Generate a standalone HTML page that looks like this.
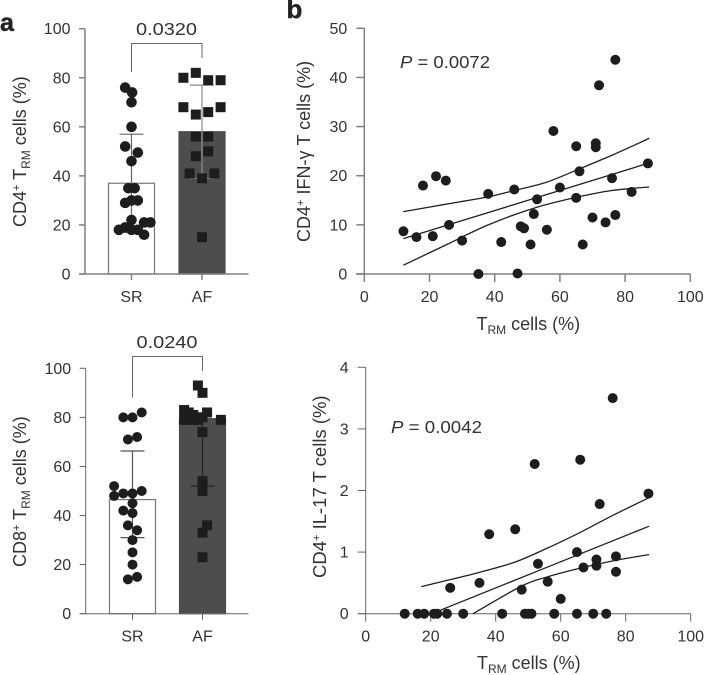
<!DOCTYPE html>
<html>
<head>
<meta charset="utf-8">
<style>
html,body{margin:0;padding:0;background:#fff;width:704px;height:675px;overflow:hidden}
svg{display:block}
text{font-family:"Liberation Sans",sans-serif;fill:#333;font-size:16px}
.title{font-size:18px}
.sup{font-size:11px}
.sub{font-size:12px}
</style>
</head>
<body>
<svg id="figure" width="704" height="675" viewBox="0 0 704 675" xmlns="http://www.w3.org/2000/svg">
  <text x="0" y="31" style="font-size:25px;font-weight:bold;fill:#222;stroke:#222;stroke-width:.4">a</text>
  <text x="286.500" y="18" style="font-size:26px;font-weight:bold;fill:#222;stroke:#222;stroke-width:.4">b</text>

  <text class="title" transform="translate(26,227) rotate(-90)">CD4<tspan dy="-6" class="sup">+</tspan><tspan dy="6"> T</tspan><tspan dy="4" class="sub">RM</tspan><tspan dy="-4"> cells (%)</tspan></text>
  <text class="title" transform="translate(26,567) rotate(-90)">CD8<tspan dy="-6" class="sup">+</tspan><tspan dy="6"> T</tspan><tspan dy="4" class="sub">RM</tspan><tspan dy="-4"> cells (%)</tspan></text>
  <text class="title" transform="translate(310,242) rotate(-90)">CD4<tspan dy="-6" class="sup">+</tspan><tspan dy="6"> IFN-γ T cells (%)</tspan></text>
  <text class="title" style="font-size:18.500px" transform="translate(326,578) rotate(-90)">CD4<tspan dy="-6" class="sup">+</tspan><tspan dy="6"> IL-17 T cells (%)</tspan></text>
  <text class="title" x="476.500" y="330">T<tspan dy="4" class="sub">RM</tspan><tspan dy="-4"> cells (%)</tspan></text>
  <text class="title" x="477" y="669">T<tspan dy="4" class="sub">RM</tspan><tspan dy="-4"> cells (%)</tspan></text>
  <text style="font-size:17.500px" x="400" y="68" textLength="90" lengthAdjust="spacingAndGlyphs"><tspan font-style="italic">P</tspan> = 0.0072</text>
  <text style="font-size:17.500px" x="391" y="433" textLength="91" lengthAdjust="spacingAndGlyphs"><tspan font-style="italic">P</tspan> = 0.0042</text>
  <text style="font-size:17.500px" x="136" y="35" textLength="61" lengthAdjust="spacingAndGlyphs">0.0320</text>
  <text style="font-size:17.500px" x="136.500" y="348" textLength="61" lengthAdjust="spacingAndGlyphs">0.0240</text>
  <polyline points="131.500,72 131.500,43.500 202,43.500 202,58" fill="none" stroke="#666" stroke-width="1"/>
  <polyline points="132.500,397.500 132.500,356.500 202.500,356.500 202.500,371" fill="none" stroke="#666" stroke-width="1"/>
  <g id="layer"></g>
</svg>
<script>
// ---- Bar chart tick labels and categories ----
var barTicks = [0, 20, 40, 60, 80, 100];
var barCategories = ['SR', 'AF'];
var scatterXTicks = [0, 20, 40, 60, 80, 100];
var ifnTicks = [0, 10, 20, 30, 40, 50];
var il17Ticks = [0, 1, 2, 3, 4];

// ---- CD4 TRM bars ----
var cd4Means = [37, 58];
var cd4Upper = [57, 77];
var cd4Lower = [17, 39];
var cd4SrValues = [76, 74, 70, 60, 52, 49.5, 46, 35, 35, 29, 30, 30, 22, 21, 21, 18, 19, 18, 18, 16];
var cd4SrSlots = [-1, 0.1, 0, 0, -1, 1, 0, -0.5, 0.5, -1, 0, 1, 0, 2, 3, -2, -1, 0, 1, 2];
var cd4AfValues = [80, 82, 79, 79, 68, 65, 66, 68, 56, 56, 48, 50, 41, 39, 41, 15];
var cd4AfSlots = [-3, -1, 1, 3, -3, -1, 1, 3, -1, 1, -1, 1, -2, 0, 2, 0];

// ---- CD8 TRM bars ----
var cd8Means = [46.5, 79.5];
var cd8Upper = [66.3, 79.5];
var cd8Lower = [31, 52];
var cd8SrValues = [80, 80, 82, 71, 72, 52, 48, 49, 49, 50, 45, 42, 41, 36, 34, 30, 25, 20, 14, 15];
var cd8SrSlots = [-2, 0, 2, -1, 1, -4, -4, -2, 0, 2, 0, -2, 0, -1, 1, 0, 0, 0, -1, 1];
var cd8AfValues = [93, 90, 83, 79, 82, 79, 81, 79, 80, 79, 80, 82, 79, 74, 54, 52, 50, 36, 33, 23];
var cd8AfSlots = [-1, 0, -4, -4, -3, -3, -2, -2, -1, -1, 0, 1, 4, 0, 0, 0, 0, 1, 0, 0];

// ---- IFN-gamma scatter ----
var ifnX = [12, 16, 18, 21, 22, 25, 26, 30, 35, 38, 42, 46, 47, 48, 49, 51, 52, 53, 56, 58, 60, 65, 65, 66, 67, 70, 71, 71, 72, 74, 76, 77, 77, 82, 87];
var ifnY = [8.7, 7.5, 18, 7.7, 19.9, 19, 10, 6.8, 0, 16.3, 6.5, 17.2, 0.1, 9.7, 9.3, 6, 12.2, 15.2, 9, 29.1, 17.6, 26, 15.5, 20.9, 6, 11.5, 26.6, 25.8, 38.4, 10.5, 19.5, 43.6, 12, 16.7, 22.5];
var ifnFitX = [12, 87.5];
var ifnFitY = [7.2, 22.6];
var ifnUpperX = [12, 25, 38, 46, 56, 66, 76.4, 87.4];
var ifnUpperY = [12.7, 14.2, 15.7, 17, 18.7, 21.4, 24.3, 27.6];
var ifnLowerX = [12, 25, 38, 52, 65, 76, 87.4];
var ifnLowerY = [1.8, 5.9, 10, 13.4, 15.6, 17, 17.7];

// ---- IL-17 scatter ----
var il17X = [12, 16, 18, 21, 22, 25, 30, 42, 49, 50, 51, 58, 65, 70, 74, 26, 35, 38, 46, 48, 52, 53, 56, 60, 65, 66, 67, 71, 71, 72, 76, 77, 77, 87];
var il17Y = [0, 0, 0, 0, 0, 0, 0, 0, 0, 0, 0, 0, 0, 0, 0, 0.42, 0.5, 1.29, 1.37, 0.39, 2.43, 0.81, 0.52, 0.24, 1, 2.5, 0.75, 0.88, 0.78, 1.78, 3.5, 0.93, 0.68, 1.95];
var il17FitX = [20.3, 87.2];
var il17FitY = [0, 1.42];
var il17UpperX = [17.1, 25, 35, 46, 55.7, 66, 76.2, 87];
var il17UpperY = [0.44, 0.54, 0.67, 0.84, 1.06, 1.32, 1.6, 1.88];
var il17LowerX = [33, 48, 56, 66, 76.2, 87.2];
var il17LowerY = [0, 0.45, 0.6, 0.74, 0.86, 0.96];

var NS = 'http://www.w3.org/2000/svg';
var layer = document.getElementById('layer');

function mk(tag, attrs) {
  var el = document.createElementNS(NS, tag);
  for (var k in attrs) el.setAttribute(k, attrs[k]);
  layer.appendChild(el);
  return el;
}
function linear(d0, d1, r0, r1) {
  return function (v) { return r0 + (v - d0) / (d1 - d0) * (r1 - r0); };
}

function drawYAxis(xPos, yScale, ticks, tickLen, gap, stroke, width) {
  var axis = mk('line', {x1: xPos, x2: xPos, y1: yScale(ticks[0]), y2: yScale(ticks[ticks.length - 1]), stroke: stroke, 'stroke-width': width});
  
  
  ticks.forEach(function (t) {
    var tick = mk('line', {x1: xPos - tickLen, x2: xPos, y1: yScale(t), y2: yScale(t), stroke: stroke, 'stroke-width': width});
    
    
    var lab = mk('text', {x: xPos - tickLen - gap, y: yScale(t) + 5.5, 'text-anchor': 'end'});
    lab.textContent = t;
    
    
  });
}

function drawBarPanel(cfg) {
  var y = linear(0, 100, cfg.y0, cfg.y100);
  var halfW = 23;
  [0, 1].forEach(function (i) {
    var cx = cfg.centers[i];
    var bar = mk('rect', {
      x: cx - halfW, width: halfW * 2, y: y(cfg.means[i]), height: y(0) - y(cfg.means[i]),
      fill: i ? '#4d4d4f' : '#fff', stroke: i ? '#4d4d4f' : '#777', 'stroke-width': 1.2
    });
    
    
  });
  drawYAxis(cfg.axisX, y, barTicks, 6, 8.5, cfg.axisColor, cfg.axisWidth);
  var xa = mk('line', {x1: cfg.axisX - 6, x2: 248.5, y1: y(0), y2: y(0), stroke: cfg.axisColor, 'stroke-width': cfg.axisWidth});
  
  
  [0, 1].forEach(function (i) {
    var cx = cfg.centers[i];
    var tick = mk('line', {x1: cx, x2: cx, y1: y(0), y2: y(0) + 6, stroke: cfg.axisColor, 'stroke-width': cfg.axisWidth});
    
    
    var lab = mk('text', {x: cx, y: y(0) + 28, 'text-anchor': 'middle'});
    lab.textContent = barCategories[i];
    
    
    var col = cfg.whisker[i];
    var stem = mk('line', {x1: cx, x2: cx, y1: y(cfg.upper[i]), y2: y(cfg.lower[i]), stroke: col, 'stroke-width': 1.2});
    
    
    if (cfg.upper[i] !== cfg.means[i]) {
      var capU = mk('line', {x1: cx - 12, x2: cx + 12, y1: y(cfg.upper[i]), y2: y(cfg.upper[i]), stroke: col, 'stroke-width': 1.2});
      
      
    }
    var capL = mk('line', {x1: cx - 12, x2: cx + 12, y1: y(cfg.lower[i]), y2: y(cfg.lower[i]), stroke: col, 'stroke-width': 1.2});
    
    
  });
  cfg.srValues.forEach(function (v, i) {
    var c = mk('circle', {cx: cfg.centers[0] + cfg.srSlots[i] * cfg.srSlotW, cy: y(v), r: cfg.radius, fill: '#1f1c1d'});
    
    
  });
  cfg.afValues.forEach(function (v, i) {
    var s = 10;
    var r = mk('rect', {x: cfg.centers[1] + cfg.afSlots[i] * cfg.afSlotW - s / 2, y: y(v) - s / 2, width: s, height: s, fill: '#1f1c1d'});
    
    
  });
}

function drawCurve(xs, ys, x, y) {
  var px = xs.map(x);
  var py = ys.map(y);
  var d = 'M' + px[0].toFixed(1) + ' ' + py[0].toFixed(1);
  for (var i = 0; i < px.length - 1; i++) {
    var a = Math.max(i - 1, 0);
    var b = Math.min(i + 2, px.length - 1);
    d += 'C' + (px[i] + (px[i + 1] - px[a]) / 6).toFixed(1) + ' ' + (py[i] + (py[i + 1] - py[a]) / 6).toFixed(1) +
      ' ' + (px[i + 1] - (px[b] - px[i]) / 6).toFixed(1) + ' ' + (py[i + 1] - (py[b] - py[i]) / 6).toFixed(1) +
      ' ' + px[i + 1].toFixed(1) + ' ' + py[i + 1].toFixed(1);
  }
  var line = mk('path', {d: d, fill: 'none', stroke: '#231f20', 'stroke-width': 1.3});
  
  
}

function drawScatter(cfg) {
  var x = linear(0, 100, cfg.x0, cfg.x100);
  var yMax = cfg.yTicks[cfg.yTicks.length - 1];
  var y = linear(0, yMax, cfg.y0, cfg.yTop);
  drawYAxis(cfg.x0, y, cfg.yTicks, 8, 9, cfg.axisColor, cfg.axisWidth);
  var xa = mk('line', {x1: cfg.x0 - 8, x2: cfg.x100, y1: y(0), y2: y(0), stroke: cfg.axisColor, 'stroke-width': cfg.axisWidth});
  
  
  scatterXTicks.forEach(function (t) {
    var tick = mk('line', {x1: x(t), x2: x(t), y1: y(0), y2: y(0) + 8, stroke: cfg.axisColor, 'stroke-width': cfg.axisWidth});
    
    
    var lab = mk('text', {x: x(t), y: y(0) + 28, 'text-anchor': 'middle'});
    lab.textContent = t;
    
    
  });
  cfg.curves.forEach(function (c) { drawCurve(c[0], c[1], x, y); });
  cfg.xs.forEach(function (v, i) {
    var c = mk('circle', {cx: x(v), cy: y(cfg.ys[i]), r: 5, fill: '#1f1c1d'});
    
    
  });
}

drawBarPanel({
  y0: 274, y100: 28.7, axisX: 85, centers: [131.5, 202], axisColor: '#808080', axisWidth: 1.5, radius: 5.3,
  whisker: ['#666', '#8a8a8a'],
  means: cd4Means, upper: cd4Upper, lower: cd4Lower,
  srValues: cd4SrValues, srSlots: cd4SrSlots, srSlotW: 6.3,
  afValues: cd4AfValues, afSlots: cd4AfSlots, afSlotW: 6.2
});
drawBarPanel({
  y0: 613.7, y100: 368.3, axisX: 85.7, centers: [132.5, 202.5], axisColor: '#666', axisWidth: 1, radius: 5,
  whisker: ['#555', '#222'],
  means: cd8Means, upper: cd8Upper, lower: cd8Lower,
  srValues: cd8SrValues, srSlots: cd8SrSlots, srSlotW: 4.6,
  afValues: cd8AfValues, afSlots: cd8AfSlots, afSlotW: 4.6
});
drawScatter({
  x0: 364.3, x100: 690.3, y0: 274, yTop: 28.3, yTicks: ifnTicks, axisColor: '#808080', axisWidth: 1.5,
  xs: ifnX, ys: ifnY,
  curves: [[ifnFitX, ifnFitY], [ifnUpperX, ifnUpperY], [ifnLowerX, ifnLowerY]]
});
drawScatter({
  x0: 365.7, x100: 690.7, y0: 613.7, yTop: 367.3, yTicks: il17Ticks, axisColor: '#666', axisWidth: 1,
  xs: il17X, ys: il17Y,
  curves: [[il17FitX, il17FitY], [il17UpperX, il17UpperY], [il17LowerX, il17LowerY]]
});
</script>
</body>
</html>
